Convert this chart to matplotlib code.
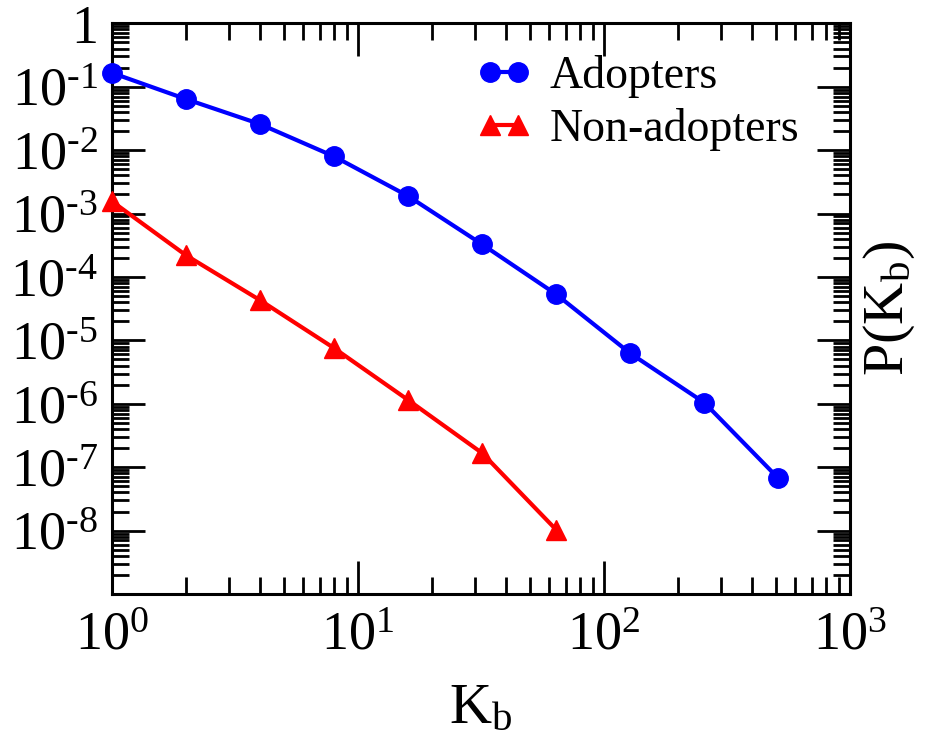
import numpy as np
import matplotlib
matplotlib.use('Agg')
from matplotlib import pyplot as plt
from matplotlib import ticker

plt.rcParams['font.family'] = ['Liberation Serif', 'DejaVu Serif']
plt.rcParams['mathtext.fontset'] = 'custom'
plt.rcParams['mathtext.rm'] = 'Liberation Serif'
plt.rcParams['mathtext.it'] = 'Liberation Serif:italic'

# degree bins (powers of two)
k_adopt = [1, 2, 4, 8, 16, 32, 64, 128, 256, 512]
p_adopt = [0.166, 0.064, 0.0258, 7.98e-3, 1.89e-3, 3.27e-4,
           5.32e-5, 6.24e-6, 1.04e-6, 6.65e-8]

k_non = [1, 2, 4, 8, 16, 32, 64]
p_non = [1.57e-3, 2.21e-4, 4.32e-5, 7.57e-6, 1.15e-6, 1.67e-7, 1.03e-8]

fig = plt.figure(figsize=(9.37, 7.55), dpi=100)
ax = fig.add_axes([0.1192, 0.2132, 0.9072 - 0.1192, 0.9691 - 0.2132])

ax.plot(k_adopt, p_adopt, '-o', color='#0000ff', lw=3, ms=14,
        label='Adopters', clip_on=False, zorder=3)
ax.plot(k_non, p_non, '-^', color='#ff0000', lw=3, ms=14,
        label='Non-adopters', clip_on=False, zorder=3)

ax.set_xscale('log')
ax.set_yscale('log')
ax.set_xlim(1, 1000)
ax.set_ylim(1e-9, 1)


def xfmt(v, pos):
    e = int(round(np.log10(v)))
    return r'$10^{%d}$' % e


def yfmt(v, pos):
    e = int(round(np.log10(v)))
    if e == 0:
        return '1'
    if e < -8:
        return ''
    return r'$10^{\text{-}%d}$' % (-e)


ax.xaxis.set_major_locator(ticker.LogLocator(base=10, numticks=10))
ax.xaxis.set_minor_locator(ticker.LogLocator(base=10, subs=np.arange(2, 10), numticks=20))
ax.yaxis.set_major_locator(ticker.LogLocator(base=10, numticks=20))
ax.yaxis.set_minor_locator(ticker.LogLocator(base=10, subs=np.arange(2, 10), numticks=20))
ax.xaxis.set_major_formatter(ticker.FuncFormatter(xfmt))
ax.yaxis.set_major_formatter(ticker.FuncFormatter(yfmt))
ax.xaxis.set_minor_formatter(ticker.NullFormatter())
ax.yaxis.set_minor_formatter(ticker.NullFormatter())

ax.tick_params(which='both', direction='in', top=True, right=True, width=2)
ax.tick_params(which='major', length=24)
ax.tick_params(which='minor', length=12)
ax.tick_params(axis='x', which='major', labelsize=39, pad=12)
ax.tick_params(axis='y', which='major', labelsize=39, pad=10)
for s in ax.spines.values():
    s.set_linewidth(2.2)

ax.set_xlabel(r'K$_\mathrm{b}$', fontsize=42, labelpad=16)
ax.yaxis.set_label_position('right')
ax.set_ylabel(r'P(K$_\mathrm{b}$)', fontsize=42, labelpad=8)

ax.legend(loc='upper right', bbox_to_anchor=(0.975, 1.0), frameon=False,
          fontsize=33, numpoints=2, handlelength=1.2, handletextpad=0.4,
          labelspacing=0.22, borderpad=0.2)

fig.savefig('out.png', dpi=100)
